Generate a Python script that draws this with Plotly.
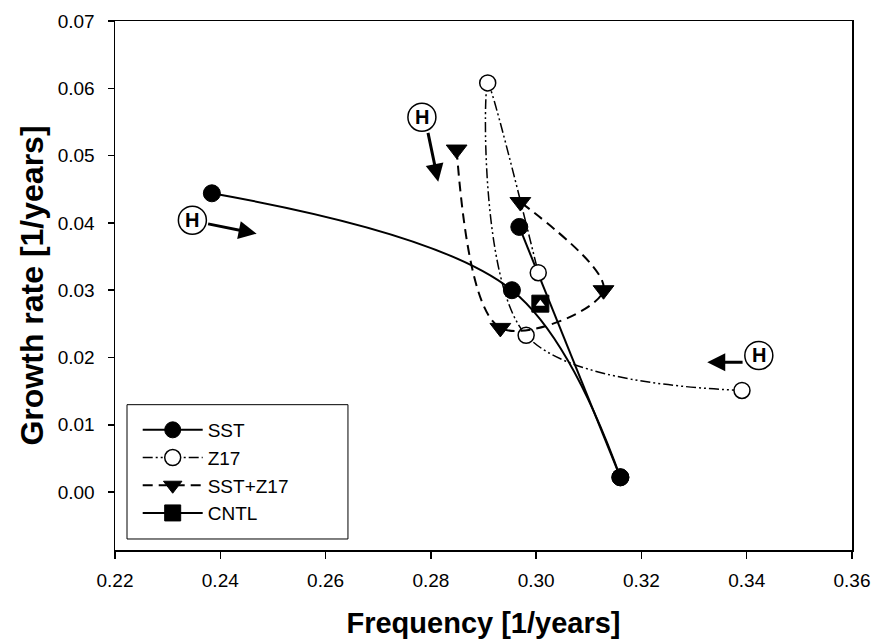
import plotly.graph_objects as go

# ---- data ----
sst_freq = [0.2384, 0.2954, 0.3160, 0.2968]
sst_growth = [0.0444, 0.0300, 0.0022, 0.0394]

z17_freq = [0.3391, 0.2981, 0.2908, 0.3004]
z17_growth = [0.0151, 0.0233, 0.0608, 0.0326]

sstz17_freq = [0.2849, 0.2932, 0.3128, 0.2970]
sstz17_growth = [0.0509, 0.0244, 0.0300, 0.0431]

cntl_freq = [0.3008]
cntl_growth = [0.0280]

x_ticks = [0.22, 0.24, 0.26, 0.28, 0.30, 0.32, 0.34, 0.36]
y_ticks = [0.00, 0.01, 0.02, 0.03, 0.04, 0.05, 0.06, 0.07]

# "H" labels (circle centre) and arrows (tail -> head), in data units
h_labels = [(0.2347, 0.0404), (0.2783, 0.0557), (0.3423, 0.0203)]
h_arrow_tail = [(0.2374, 0.0399), (0.2794, 0.0536), (0.3395, 0.0193)]
h_arrow_head = [(0.2469, 0.0384), (0.2814, 0.0461), (0.3325, 0.0193)]

FONT = "Liberation Sans, Arial, sans-serif"

fig = go.Figure()

# SST: smooth curve over first three points, straight segment back up
fig.add_trace(go.Scatter(
    x=sst_freq[:3], y=sst_growth[:3], mode="lines+markers", name="SST",
    line=dict(color="black", width=2, shape="spline", smoothing=1),
    marker=dict(symbol="circle", size=17, color="black",
                line=dict(color="black", width=1))))
fig.add_trace(go.Scatter(
    x=sst_freq[2:], y=sst_growth[2:], mode="lines+markers",
    line=dict(color="black", width=2),
    marker=dict(symbol="circle", size=17, color="black",
                line=dict(color="black", width=1)),
    showlegend=False, hoverinfo="skip"))

# Z17
fig.add_trace(go.Scatter(
    x=z17_freq, y=z17_growth, mode="lines+markers", name="Z17",
    line=dict(color="black", width=1.5, shape="spline", smoothing=1,
              dash="10px,3px,2px,3px,2px,3px"),
    marker=dict(symbol="circle", size=16, color="white",
                line=dict(color="black", width=1.5))))

# SST+Z17
fig.add_trace(go.Scatter(
    x=sstz17_freq, y=sstz17_growth, mode="lines+markers", name="SST+Z17",
    line=dict(color="black", width=2, shape="spline", smoothing=1,
              dash="10px,6px"),
    marker=dict(symbol="triangle-down", size=18, color="black",
                line=dict(color="black", width=1))))

# CNTL
fig.add_trace(go.Scatter(
    x=cntl_freq, y=cntl_growth, mode="lines+markers", name="CNTL",
    line=dict(color="black", width=2),
    marker=dict(symbol="square", size=17, color="black",
                line=dict(color="black", width=1))))
fig.add_trace(go.Scatter(
    x=cntl_freq, y=cntl_growth, mode="markers", showlegend=False,
    marker=dict(symbol="triangle-up", size=8, color="white",
                line=dict(color="white", width=0)),
    hoverinfo="skip"))

# H markers and arrows
for (hx, hy) in h_labels:
    fig.add_shape(type="circle", xref="x", yref="y",
                  xsizemode="pixel", ysizemode="pixel",
                  xanchor=hx, yanchor=hy, x0=-14, x1=14, y0=-14, y1=14,
                  line=dict(color="black", width=1.5), fillcolor="white")
    fig.add_annotation(x=hx, y=hy, text="<b>H</b>", showarrow=False,
                       font=dict(family=FONT, size=20, color="black"))
for (tx, ty), (hx, hy) in zip(h_arrow_tail, h_arrow_head):
    fig.add_annotation(x=hx, y=hy, ax=tx, ay=ty, xref="x", yref="y",
                       axref="x", ayref="y", text="", showarrow=True,
                       arrowhead=2, arrowsize=1.2, arrowwidth=3,
                       arrowcolor="black")

# legend frame
fig.add_shape(type="rect", xref="paper", yref="paper",
              x0=0.0163, x1=0.3161, y0=0.0208, y1=0.2747,
              line=dict(color="black", width=1), fillcolor="white",
              layer="above")

fig.update_layout(
    width=872, height=641,
    margin=dict(l=115, r=20, t=21, b=91, autoexpand=False),
    paper_bgcolor="white", plot_bgcolor="white",
    font=dict(family=FONT, size=19, color="black"),
    showlegend=True,
    legend=dict(x=0.0308, y=0.2628, xanchor="left", yanchor="top",
                bgcolor="rgba(0,0,0,0)", borderwidth=0,
                font=dict(family=FONT, size=19, color="black"),
                itemwidth=60, tracegroupgap=0),
)
fig.update_xaxes(
    range=[0.22, 0.36], tickvals=x_ticks, tickformat=".2f",
    automargin=False,
    showgrid=False, zeroline=False, showline=True, linecolor="black",
    linewidth=1.5, mirror=True, ticks="outside", ticklen=7,
    tickwidth=1.5, tickcolor="black", ticklabelstandoff=6,
    tickfont=dict(family=FONT, size=19),
    title=dict(text="<b>Frequency [1/years]</b>",
               font=dict(family=FONT, size=29), standoff=22))
fig.update_yaxes(
    range=[-0.0086, 0.07], tickvals=y_ticks, tickformat=".2f",
    automargin=False,
    showgrid=False, zeroline=False, showline=True, linecolor="black",
    linewidth=1.5, mirror=True, ticks="outside", ticklen=6,
    tickwidth=1.5, tickcolor="black", ticklabelstandoff=9,
    tickfont=dict(family=FONT, size=19),
    title=dict(text="<b>Growth rate [1/years]</b>",
               font=dict(family=FONT, size=32), standoff=4))

fig.write_html(
    "out.html",
    config={"displayModeBar": False, "staticPlot": True},
    post_script="document.body.style.margin='0';"
                "document.body.style.overflow='hidden';")
